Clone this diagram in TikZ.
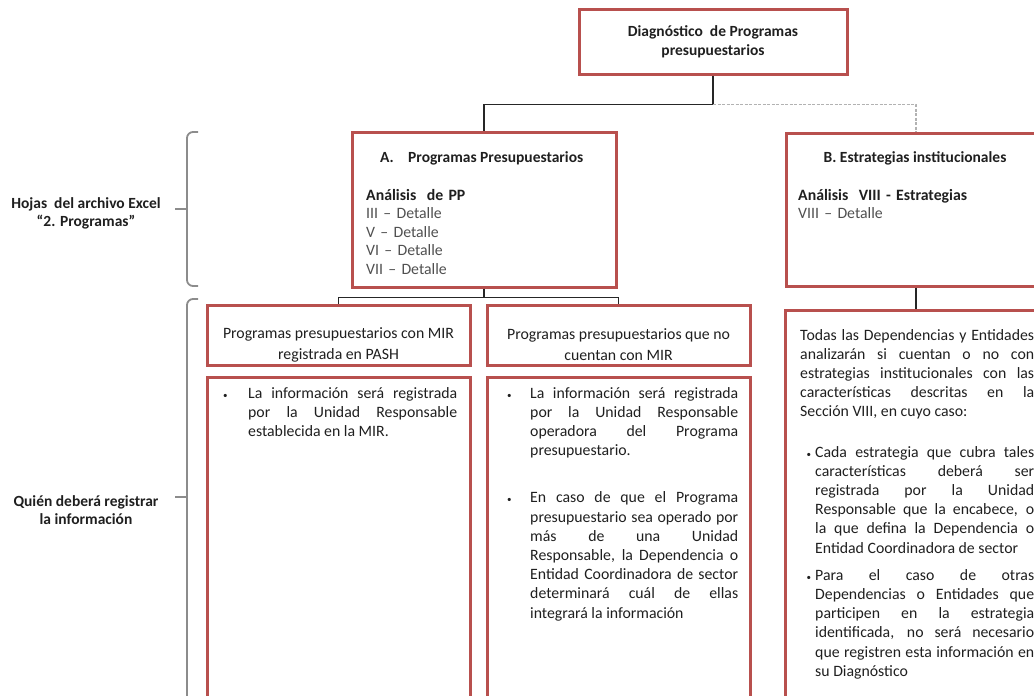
\documentclass[tikz,border=0pt]{standalone}
\usepackage{fontspec}
\setmainfont{Carlito}
\usepackage{tikz}
\definecolor{boxred}{RGB}{184,80,78}
\definecolor{bracegray}{RGB}{140,140,140}
\definecolor{txtgray}{RGB}{80,80,80}
\hyphenpenalty=10000
\exhyphenpenalty=10000
\tolerance=10000
\hbadness=10000
\newcommand{\bulmark}{{\fontsize{9}{9}\selectfont\textbullet}}
\newcommand{\bul}[2]{\noindent\hangindent=#1\hangafter=1\makebox[#1][l]{\bulmark}#2\par}
\newcommand{\bulc}[2]{\noindent\hangindent=#1\hangafter=1\makebox[#1][r]{\bulmark\hspace{4pt}}#2\par}

\tikzset{
        redbox/.style={draw=boxred, line width=3pt, rectangle, inner sep=0pt},
        txt/.style={font=\fontsize{15.8}{19.2}\selectfont, text=black!88, inner sep=0pt},
        boldtxt/.style={font=\fontsize{15.5}{19}\selectfont\bfseries, text=black!88, inner sep=0pt},
        connector/.style={line width=1.1pt, black!85},
        dashcon/.style={line width=1.1pt, gray!60, dash pattern=on 3pt off 1.5pt},
        bracket/.style={line width=1.8pt, bracegray, rounded corners=6pt},
}

\begin{document}
\begin{tikzpicture}[x=1pt, y=-1pt]
        \useasboundingbox (0,0) rectangle (1034,696);
        \clip (0,0) rectangle (1034,696);

        \node[redbox, boldtxt, align=center, minimum width=268, minimum height=65] (diag) at (713,41.5) {Diagnóstico\ \ de Programas\\presupuestarios};

        \node[redbox, minimum width=264, minimum height=155] (progA) at (484,209.5) {};
        \node[boldtxt, anchor=base west] (progAtit) at (380,162) {\makebox[28pt][l]{A.}Programas Presupuestarios};
        \node[txt, font=\fontsize{15.8}{18.6}\selectfont, anchor=base west, text width=230, align=left] (progAbody) at (366,200) {\textbf{Análisis\ \ de PP}\\\textcolor{txtgray}{III – Detalle}\\\textcolor{txtgray}{V – Detalle}\\\textcolor{txtgray}{VI – Detalle}\\\textcolor{txtgray}{VII – Detalle}};

        \node[redbox, minimum width=260, minimum height=153] (estB) at (916,209.5) {};
        \node[boldtxt, anchor=base] (estBtit) at (915,162) {B. Estrategias institucionales};
        \node[txt, font=\fontsize{15.8}{18.6}\selectfont, anchor=base west, text width=230, align=left] (estBbody) at (798,200) {\textbf{Análisis\ \ VIII - Estrategias}\\\textcolor{txtgray}{VIII – Detalle}};

        \node[redbox, minimum width=263, minimum height=60] (sub1) at (338.5,335) {};
        \node[txt, font=\fontsize{15.8}{21}\selectfont, align=center] (sub1txt) at (338.5,345) {Programas presupuestarios con MIR\\registrada en PASH};
        \node[redbox, minimum width=263, minimum height=60] (sub2) at (618.5,335) {};
        \node[txt, font=\fontsize{15.8}{21}\selectfont, align=center] (sub2txt) at (618.5,345) {Programas presupuestarios que no\\cuentan con MIR};

        \node[redbox, minimum width=263, minimum height=340] (cont1) at (338.5,547) {};
        \node[txt, anchor=base west, text width=234, align=justify] (cont1txt) at (223,398) {\bul{25pt}{La información será registrada\linebreak por la Unidad Responsable\linebreak establecida en la MIR.}};
        \node[redbox, minimum width=263, minimum height=340] (cont2) at (618.5,547) {};
        \node[txt, anchor=base west, text width=231, align=justify] (cont2txt) at (507,398) {\bul{23pt}{La información será registrada\linebreak por la Unidad Responsable\linebreak operadora del Programa\linebreak presupuestario.}\vskip 28pt
        \bul{23pt}{En caso de que el Programa\linebreak presupuestario sea operado por\linebreak más de una Unidad\linebreak Responsable, la Dependencia o\linebreak Entidad Coordinadora de sector\linebreak determinará cuál de ellas\linebreak integrará la información}};

        \node[redbox, minimum width=260, minimum height=400] (estC) at (915,510) {};
        \node[txt, anchor=base west, text width=234, align=justify] (estCtxt) at (800,340) {\noindent Todas las Dependencias y Entidades\linebreak analizarán si cuentan o no con\linebreak estrategias institucionales con las\linebreak características descritas en la\linebreak Sección VIII, en cuyo caso:\par\vskip 21pt
        \bulc{15pt}{Cada estrategia que cubra tales\linebreak características deberá ser\linebreak registrada por la Unidad\linebreak Responsable que la encabece, o\linebreak la que defina la Dependencia o\linebreak Entidad Coordinadora de sector}\vskip 8pt
        \bulc{15pt}{Para el caso de otras\linebreak Dependencias o Entidades que\linebreak participen en la estrategia\linebreak identificada, no será necesario\linebreak que registren esta información en\linebreak su Diagnóstico}};

        \node[boldtxt, font=\fontsize{15.5}{17.5}\selectfont\bfseries, align=center] (hojas) at (86,213.5) {Hojas\ \ del archivo Excel\\“2. Programas”};
        \node[boldtxt, font=\fontsize{15.5}{18.5}\selectfont\bfseries, align=center] (quien) at (86,510) {Quién deberá registrar\\la información};

        \draw[connector] (diag.south) -- ++(0,29) -| (progA.north);
        \draw[dashcon] (diag.south) ++(0,29) -| (estB.north);
        \draw[connector] (progA.south) -- ++(0,9) -| (sub1.north);
        \draw[connector] (progA.south) ++(0,9) -| (sub2.north);
        \draw[connector] (estB.south) -- (estB.south |- estC.north);

        \draw[bracket] (198,132) -| (187,209) |- (198,286);
        \draw[bracket] (187,209) -- (175,209);
        \draw[bracket] (198,299) -| (187,497) -- (187,720);
        \draw[bracket] (187,497) -- (175,497);
\end{tikzpicture}
\end{document}
